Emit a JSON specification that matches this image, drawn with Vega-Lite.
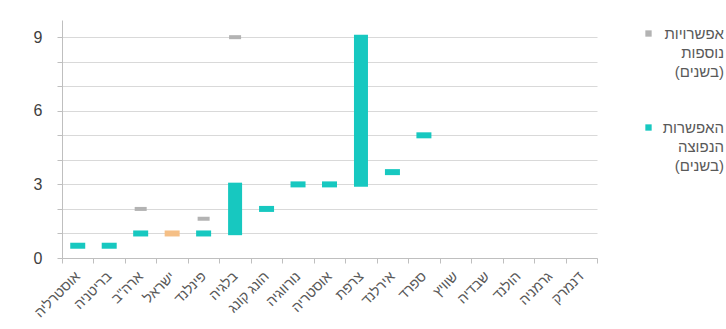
{
  "$schema": "https://vega.github.io/schema/vega-lite/v6.json",
  "width": 535,
  "height": 238,
  "autosize": "none",
  "padding": {"left": 62, "top": 20, "right": 129, "bottom": 71},
  "background": "white",
  "config": {"font": "Liberation Sans", "view": {"stroke": null}, "style": {"guide-label": {"lineHeight": 19}}},
  "data": {
    "values": [
      {"country": "אוסטרליה", "kind": "main", "value": 0.5, "series": "האפשרות הנפוצה (בשנים)"},
      {"country": "בריטניה", "kind": "main", "value": 0.5, "series": "האפשרות הנפוצה (בשנים)"},
      {"country": "ארה\"ב", "kind": "main", "value": 1, "series": "האפשרות הנפוצה (בשנים)"},
      {"country": "ארה\"ב", "kind": "extra", "value": 2, "series": "אפשרויות נוספות (בשנים)"},
      {"country": "ישראל", "kind": "main", "value": 1, "series": "ישראל"},
      {"country": "פינלנד", "kind": "main", "value": 1, "series": "האפשרות הנפוצה (בשנים)"},
      {"country": "פינלנד", "kind": "extra", "value": 1.6, "series": "אפשרויות נוספות (בשנים)"},
      {"country": "בלגיה", "kind": "range", "value": 0.93, "high": 3.07, "series": "האפשרות הנפוצה (בשנים)"},
      {"country": "בלגיה", "kind": "extra", "value": 9, "series": "אפשרויות נוספות (בשנים)"},
      {"country": "הונג קונג", "kind": "main", "value": 2, "series": "האפשרות הנפוצה (בשנים)"},
      {"country": "נורווגיה", "kind": "main", "value": 3, "series": "האפשרות הנפוצה (בשנים)"},
      {"country": "אוסטריה", "kind": "main", "value": 3, "series": "האפשרות הנפוצה (בשנים)"},
      {"country": "צרפת", "kind": "range", "value": 2.9, "high": 9.1, "series": "האפשרות הנפוצה (בשנים)"},
      {"country": "אירלנד", "kind": "main", "value": 3.5, "series": "האפשרות הנפוצה (בשנים)"},
      {"country": "ספרד", "kind": "main", "value": 5, "series": "האפשרות הנפוצה (בשנים)"}
    ]
  },
  "encoding": {
    "x": {
      "field": "country",
      "type": "nominal",
      "sort": null,
      "scale": {
        "domain": ["אוסטרליה", "בריטניה", "ארה\"ב", "ישראל", "פינלנד", "בלגיה", "הונג קונג", "נורווגיה", "אוסטריה", "צרפת", "אירלנד", "ספרד", "שוויץ", "שבדיה", "הולנד", "גרמניה", "דנמרק"],
        "paddingInner": 0,
        "paddingOuter": 0
      },
      "axis": {
        "title": null,
        "labelAngle": -45,
        "labelAlign": "right",
        "labelBaseline": "middle",
        "labelFontSize": 14,
        "labelColor": "#595959",
        "labelPadding": 11,
        "tickBand": "extent",
        "tickSize": 5,
        "tickColor": "#bfbfbf",
        "domainColor": "#bfbfbf",
        "grid": false
      }
    },
    "y": {
      "field": "value",
      "type": "quantitative",
      "scale": {"domain": [0, 9.7], "nice": false, "zero": true},
      "axis": {
        "title": null,
        "values": [0, 1, 2, 3, 4, 5, 6, 7, 8, 9],
        "labelExpr": "datum.value % 3 === 0 ? datum.label : ''",
        "grid": true,
        "gridColor": "#d9d9d9",
        "domainColor": "#bfbfbf",
        "tickColor": "#bfbfbf",
        "tickSize": 5,
        "labelFontSize": 16,
        "labelColor": "#404040",
        "labelPadding": 15
      }
    },
    "color": {
      "field": "series",
      "type": "nominal",
      "scale": {
        "domain": ["אפשרויות נוספות (בשנים)", "האפשרות הנפוצה (בשנים)", "ישראל"],
        "range": ["#b3b3b3", "#17c8c0", "#f5bf86"]
      },
      "legend": {
        "title": null,
        "values": ["אפשרויות נוספות (בשנים)", "האפשרות הנפוצה (בשנים)"],
        "orient": "right",
        "offset": 38,
        "padding": 6,
        "rowPadding": 40,
        "labelExpr": "split(datum.label, ' ')",
        "labelFontSize": 15,
        "labelColor": "#595959",
        "labelAlign": "right",
        "labelBaseline": "middle",
        "labelOffset": 68,
        "labelLimit": 200,
        "symbolType": "square",
        "symbolSize": 40
      }
    }
  },
  "layer": [
    {
      "transform": [{"filter": "datum.kind === 'range'"}],
      "mark": {"type": "bar", "width": 14},
      "encoding": {"y2": {"field": "high"}}
    },
    {
      "transform": [{"filter": "datum.kind === 'main'"}],
      "mark": {"type": "tick", "thickness": 6, "size": 15, "opacity": 1}
    },
    {
      "transform": [{"filter": "datum.kind === 'extra'"}],
      "mark": {"type": "tick", "thickness": 4, "size": 12, "opacity": 1}
    }
  ]
}
